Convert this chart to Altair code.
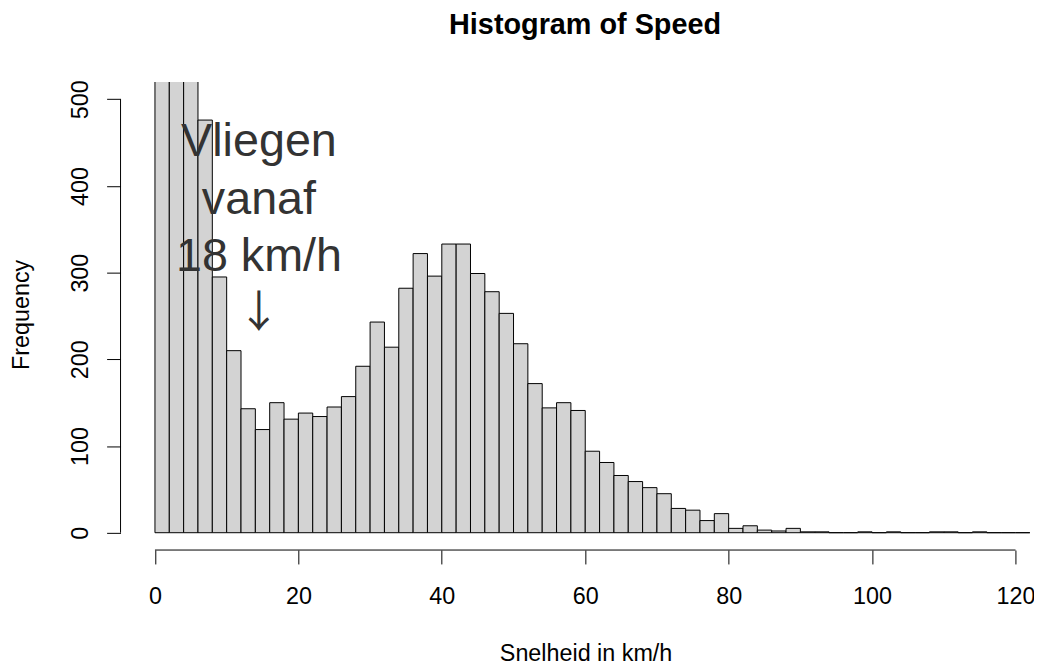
import altair as alt
import pandas as pd

# ---- data (bins of 2 km/h, 0..122) ----
bin_start = list(range(0, 122, 2))
bin_width = 2
counts = [1150, 790, 560, 476, 295, 210, 143, 119, 150, 131,
          138, 134, 145, 157, 192, 243, 214, 282, 322, 296,
          333, 333, 299, 278, 253, 218, 172, 144, 150, 141,
          94, 81, 66, 59, 52, 45, 28, 26, 14, 22,
          5, 8, 3, 2, 5, 1, 1, 0, 0, 1,
          0, 1, 0, 0, 1, 1, 0, 1, 0, 0, 0]
x_ticks = [0, 20, 40, 60, 80, 100, 120]
y_ticks = [0, 100, 200, 300, 400, 500]
title_text = "Histogram of Speed"
x_title = "Snelheid in km/h"
y_title = "Frequency"
note_text = "Vliegen\nvanaf\n18 km/h"
arrow_text = "\u2193"

df = pd.DataFrame({
    "start": bin_start,
    "end": [s + bin_width for s in bin_start],
    "count": counts,
})
one = pd.DataFrame({"k": [0]})

W, H = 917.7, 471.3
FONT = "Liberation Sans, Arial, Helvetica, sans-serif"
FS = 23.5

x_scale = alt.Scale(domain=[-4.8, 122.3], nice=False, zero=False)
y_scale = alt.Scale(domain=[-20, 520], nice=False, zero=False)

bars = alt.Chart(df).mark_rect(
    fill="#D3D3D3", stroke="#000000", strokeWidth=1, clip=True
).encode(
    x=alt.X("start:Q", scale=x_scale, axis=alt.Axis(
        values=x_ticks, domain=False, grid=False, tickSize=14, tickColor="#000",
        tickWidth=1, labelFontSize=FS, labelFont=FONT, labelColor="#000",
        labelPadding=39.5, labelBaseline="alphabetic", labelAlign="center",
        labelFlush=False, labelOverlap=False, labelBound=False,
        title=x_title, titleFont=FONT, titleFontSize=FS, titleFontWeight="normal",
        titleColor="#000", titleX=468.2, titleY=110.8, titleAlign="center",
        titleBaseline="alphabetic", titleAngle=0,
    )),
    x2="end:Q",
    y=alt.Y("count:Q", scale=y_scale, axis=alt.Axis(
        values=y_ticks, domain=False, grid=False, tickSize=14, tickColor="#000",
        tickWidth=1, labelFontSize=FS, labelFont=FONT, labelColor="#000",
        labelAngle=270, labelPadding=19, labelBaseline="alphabetic",
        labelAlign="center", labelFlush=False, labelOverlap=False, labelBound=False,
        title=y_title, titleFont=FONT, titleFontSize=FS, titleFontWeight="normal",
        titleColor="#000", titleAngle=270, titleX=-92.8, titleY=234,
        titleAlign="center", titleBaseline="alphabetic",
    )),
    y2=alt.datum(0),
)

x_line = alt.Chart(one).mark_rule(color="#000", strokeWidth=1).encode(
    x=alt.datum(0), x2=alt.datum(120), y=alt.value(H)
)
y_line = alt.Chart(one).mark_rule(color="#000", strokeWidth=1).encode(
    x=alt.value(0), y=alt.datum(0), y2=alt.datum(500)
)

title = alt.Chart(one).mark_text(
    text=title_text, font=FONT, fontSize=29, fontWeight="bold", color="#000",
    align="center", baseline="alphabetic"
).encode(x=alt.value(467.7), y=alt.value(-48.2))

note = alt.Chart(one).mark_text(
    text=note_text, lineBreak="\n", lineHeight=57.5, font=FONT, fontSize=47,
    color="#333333", align="center", baseline="alphabetic"
).encode(x=alt.datum(14.5), y=alt.datum(434))

arrow = alt.Chart(one).mark_text(
    text=arrow_text, font="Noto Sans CJK SC, Liberation Sans, sans-serif",
    fontSize=44, color="#333333", align="center", baseline="alphabetic"
).encode(x=alt.datum(14.5), y=alt.datum(237))

chart = alt.layer(bars, x_line, y_line, note, arrow, title).properties(
    width=W, height=H,
    padding={"left": 113.3, "top": 72.2, "right": 2, "bottom": 113},
    autosize=alt.AutoSizeParams(type="none"),
    background="white",
).configure_view(stroke=None)

chart.save("out.html", embed_options={"renderer": "svg", "actions": False})
